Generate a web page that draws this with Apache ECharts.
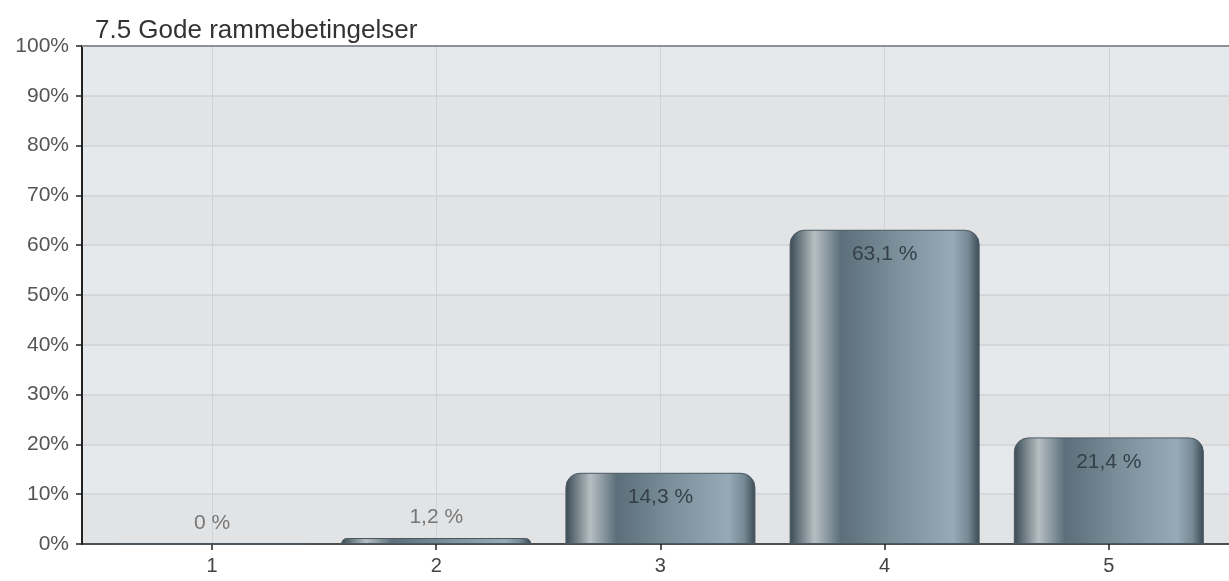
<!DOCTYPE html>
<html>
<head>
<meta charset="utf-8">
<style>
  html, body { margin: 0; padding: 0; background: #ffffff; }
  #chart { width: 1229px; height: 581px; }
</style>
<script src="https://cdn.jsdelivr.net/npm/echarts@6/dist/echarts.min.js"></script>
</head>
<body>
<div id="chart"></div>
<script>
// Answer options (1-5) and share of responses in percent
const titleText = '7.5 Gode rammebetingelser';
const categories = [1, 2, 3, 4, 5];
const shares = [0, 1.2, 14.3, 63.1, 21.4];
const yTicks = [0, 10, 20, 30, 40, 50, 60, 70, 80, 90, 100];

const FONT = 'Liberation Sans, Arial, sans-serif';
const fmtPct = v => v.toFixed(v === 0 ? 0 : 1).replace('.', ',') + ' %';

// cylinder-like horizontal shading for the bars
const barFill = new echarts.graphic.LinearGradient(0, 0, 1, 0, [
  { offset: 0.00, color: '#3c4a53' },
  { offset: 0.05, color: '#68787f' },
  { offset: 0.13, color: '#b6bec2' },
  { offset: 0.20, color: '#8a989f' },
  { offset: 0.27, color: '#5b6e79' },
  { offset: 0.55, color: '#7a8f9a' },
  { offset: 0.86, color: '#96abb7' },
  { offset: 0.94, color: '#768994' },
  { offset: 1.00, color: '#3c4a53' }
]);

const chart = echarts.init(document.getElementById('chart'), null, { renderer: 'canvas' });

chart.setOption({
  animation: false,
  backgroundColor: '#ffffff',
  title: {
    text: titleText,
    left: 90,
    top: 13,
    textStyle: {
      fontFamily: FONT,
      fontSize: 26,
      fontWeight: 'normal',
      color: '#333333'
    }
  },
  grid: {
    left: 82,
    right: 0,
    top: 46,
    bottom: 37,
    containLabel: false,
    show: true,
    borderWidth: 0
  },
  xAxis: {
    type: 'value',
    min: 0.42,
    max: 5.536,
    axisLine: { show: true, onZero: false, lineStyle: { color: '#222222', width: 1.5 } },
    axisTick: {
      show: true,
      customValues: categories,
      length: 6,
      lineStyle: { color: '#222222', width: 1.5 }
    },
    axisLabel: {
      customValues: categories,
      margin: 12,
      fontFamily: FONT,
      fontSize: 20,
      color: '#444444'
    },
    splitLine: { show: true, lineStyle: { color: '#cfd2d6', width: 1 } }
  },
  yAxis: {
    type: 'value',
    min: yTicks[0],
    max: yTicks[yTicks.length - 1],
    interval: yTicks[1] - yTicks[0],
    axisLine: { show: true, lineStyle: { color: '#222222', width: 2 } },
    axisTick: { show: true, length: 6, lineStyle: { color: '#222222', width: 1.5 } },
    axisLabel: {
      formatter: '{value}%',
      margin: 13,
      fontFamily: FONT,
      fontSize: 21,
      color: '#555555'
    },
    splitLine: { show: true, lineStyle: { color: '#cfd1d4', width: 1.5 } },
    splitArea: { show: true, areaStyle: { color: ['#e2e3e5', '#e6e9ec'] } }
  },
  series: [
    {
      type: 'bar',
      barWidth: 190,
      data: categories.map((c, i) => {
        const v = shares[i];
        const small = v < 5;
        return {
          value: [c, v],
          label: {
            show: true,
            position: small ? 'top' : 'insideTop',
            distance: small ? 10 : 14,
            formatter: () => fmtPct(v),
            fontFamily: FONT,
            fontSize: 21,
            color: small ? '#777777' : '#34414a'
          }
        };
      }),
      itemStyle: {
        color: barFill,
        borderRadius: [14, 14, 0, 0],
        borderColor: '#4a5963',
        borderWidth: 1
      }
    }
  ]
});

// top border of the plot area, placed from the axis scale
const topY = chart.convertToPixel({ yAxisIndex: 0 }, yTicks[yTicks.length - 1]);
chart.setOption({
  graphic: [{
    type: 'line',
    shape: { x1: 82, y1: topY, x2: 1229, y2: topY },
    style: { stroke: '#8d9094', lineWidth: 2 },
    z: 10
  }]
});
</script>
</body>
</html>
